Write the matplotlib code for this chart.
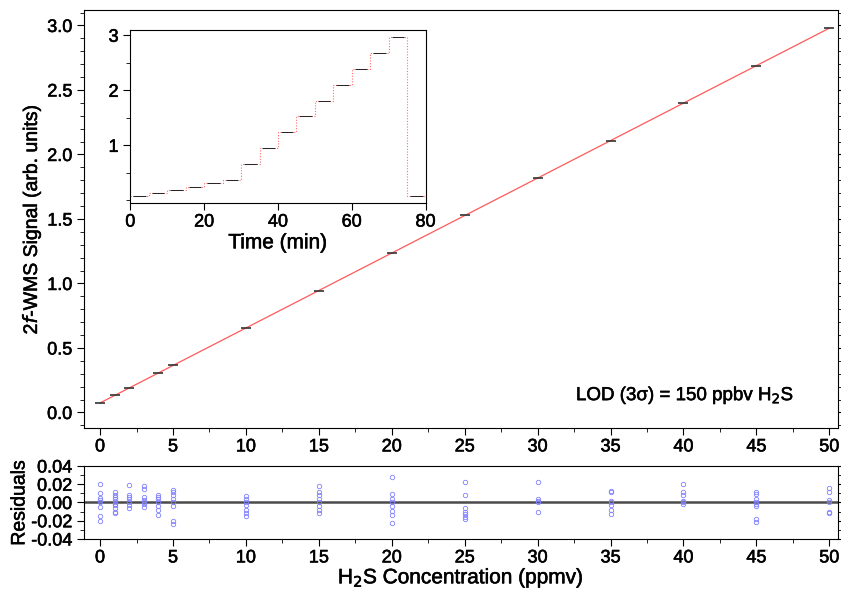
import numpy as np
import matplotlib
matplotlib.use('Agg')
import matplotlib.pyplot as plt
from matplotlib.ticker import MultipleLocator
import matplotlib.patheffects as pe

plt.rcParams['font.family'] = ['Liberation Sans', 'DejaVu Sans']

# calibration points (ppmv -> 2f signal)
conc = [0, 1, 2, 4, 5, 10, 15, 20, 25, 30, 35, 40, 45, 50]
signal = [0.075, 0.132, 0.19, 0.305, 0.366, 0.655, 0.944, 1.236, 1.527, 1.818, 2.106, 2.398, 2.688, 2.98]

# residuals, several repeated readings per concentration
res_conc = [0, 1, 2, 3, 4, 5, 10, 15, 20, 25, 30, 35, 40, 45, 50]
residuals = [
    [0.020, 0.010, 0.005, 0.003, 0.0, -0.005, -0.015, -0.020],
    [0.012, 0.008, 0.006, 0.004, 0.0, -0.002, -0.003, -0.006, -0.010, -0.012],
    [0.019, 0.008, 0.006, 0.004, 0.0, -0.003, -0.006],
    [0.018, 0.015, 0.006, 0.003, 0.0, -0.002, -0.005],
    [0.008, 0.006, 0.004, 0.0, -0.004, -0.008, -0.014],
    [0.014, 0.011, 0.008, 0.004, 0.0, -0.004, -0.020, -0.024],
    [0.007, 0.004, 0.0, -0.003, -0.008, -0.012, -0.015],
    [0.018, 0.012, 0.008, 0.004, 0.0, -0.004, -0.008, -0.011],
    [0.028, 0.009, 0.004, 0.0, -0.004, -0.009, -0.014, -0.022],
    [0.022, 0.008, -0.006, -0.010, -0.013, -0.016, -0.018],
    [0.022, 0.004, 0.002, 0.0, -0.010],
    [0.013, 0.011, 0.002, 0.0, -0.003, -0.008, -0.013],
    [0.020, 0.012, 0.008, 0.002, 0.0, -0.002],
    [0.012, 0.009, 0.004, 0.0, -0.002, -0.004, -0.018, -0.021],
    [0.016, 0.012, 0.003, 0.0, -0.010, -0.012],
]

# inset: time series, one level every 5 min
step_time = [0, 5, 10, 15, 20, 25, 30, 35, 40, 45, 50, 55, 60, 65, 70, 75]
step_level = [0.08, 0.13, 0.19, 0.25, 0.31, 0.37, 0.66, 0.95, 1.24, 1.53, 1.81, 2.10, 2.39, 2.68, 2.97, 0.08]

# slightly heavier text, like the scanned original
heavy = [pe.withStroke(linewidth=0.4, foreground='black')]

fig = plt.figure(figsize=(8.41, 5.94), dpi=100)
ax = fig.add_axes([0.0999, 0.2795, 0.8966, 0.7037])
axr = fig.add_axes([0.0999, 0.0926, 0.8966, 0.1229])
axi = fig.add_axes([0.155, 0.658, 0.351, 0.291])


def style_ticks(a, size=13):
    a.tick_params(which='both', direction='out', labelsize=size)
    a.tick_params(which='major', length=5)
    a.tick_params(which='minor', length=3)
    a.tick_params(axis='x', pad=2.5)
    for lab in a.get_xticklabels() + a.get_yticklabels():
        lab.set_path_effects(heavy)


# main calibration plot
fit = np.polyfit(conc, signal, 1)
xf = np.array([0, 50])
ax.plot(xf, np.polyval(fit, xf), color='#ff5a5a', lw=0.9, zorder=1)
ax.plot(conc, signal, ls='none', marker='_', ms=7, mew=1.2, color='#333333', zorder=2)
ax.set_xlim(-1.1, 50.6)
ax.set_ylim(-0.12, 3.12)
ax.xaxis.set_major_locator(MultipleLocator(5))
ax.xaxis.set_minor_locator(MultipleLocator(2.5))
ax.yaxis.set_major_locator(MultipleLocator(0.5))
ax.yaxis.set_minor_locator(MultipleLocator(0.1))
ax.yaxis.set_major_formatter(plt.FormatStrFormatter('%.1f'))
ax.tick_params(which='both', right=True)
style_ticks(ax)
ax.set_ylabel('2$\\it{f}$-WMS Signal (arb. units)', fontsize=14, labelpad=3, path_effects=heavy)
ax.text(47.6, 0.13, 'LOD (3σ) = 150 ppbv H$_2$S', ha='right', va='center', fontsize=13.5,
        path_effects=heavy)

# residuals
axr.axhline(0, color='#4a4a4a', lw=1.8, zorder=1)
for c, r in zip(res_conc, residuals):
    axr.plot([c] * len(r), r, ls='none', marker='o', ms=3.2, mfc='none', mec='#8080ff', mew=0.6)
axr.set_xlim(-1.1, 50.6)
axr.set_ylim(-0.04, 0.04)
axr.xaxis.set_major_locator(MultipleLocator(5))
axr.xaxis.set_minor_locator(MultipleLocator(2.5))
axr.yaxis.set_major_locator(MultipleLocator(0.02))
axr.yaxis.set_minor_locator(MultipleLocator(0.01))
axr.yaxis.set_major_formatter(plt.FormatStrFormatter('%.2f'))
axr.tick_params(which='both', right=True)
style_ticks(axr)
axr.set_ylabel('Residuals', fontsize=14, labelpad=2, path_effects=heavy)
axr.set_xlabel('H$_2$S Concentration (ppmv)', fontsize=15, labelpad=0, path_effects=heavy)

# inset time series
axi.step(step_time + [80], step_level + [step_level[-1]], where='post', color='#ff7070', lw=0.8, ls=(0, (1, 1.5)))
for t, v in zip(step_time, step_level):
    axi.hlines(v, t + 0.8, t + 4.2, color='#222222', lw=0.7)
axi.set_xlim(0, 80)
axi.set_ylim(-0.05, 3.09)
axi.xaxis.set_major_locator(MultipleLocator(20))
axi.yaxis.set_minor_locator(MultipleLocator(0.5))
axi.set_yticks([1, 2, 3])
style_ticks(axi)
axi.set_xlabel('Time (min)', fontsize=15, labelpad=2, path_effects=heavy)

fig.savefig('out.png', dpi=100)
